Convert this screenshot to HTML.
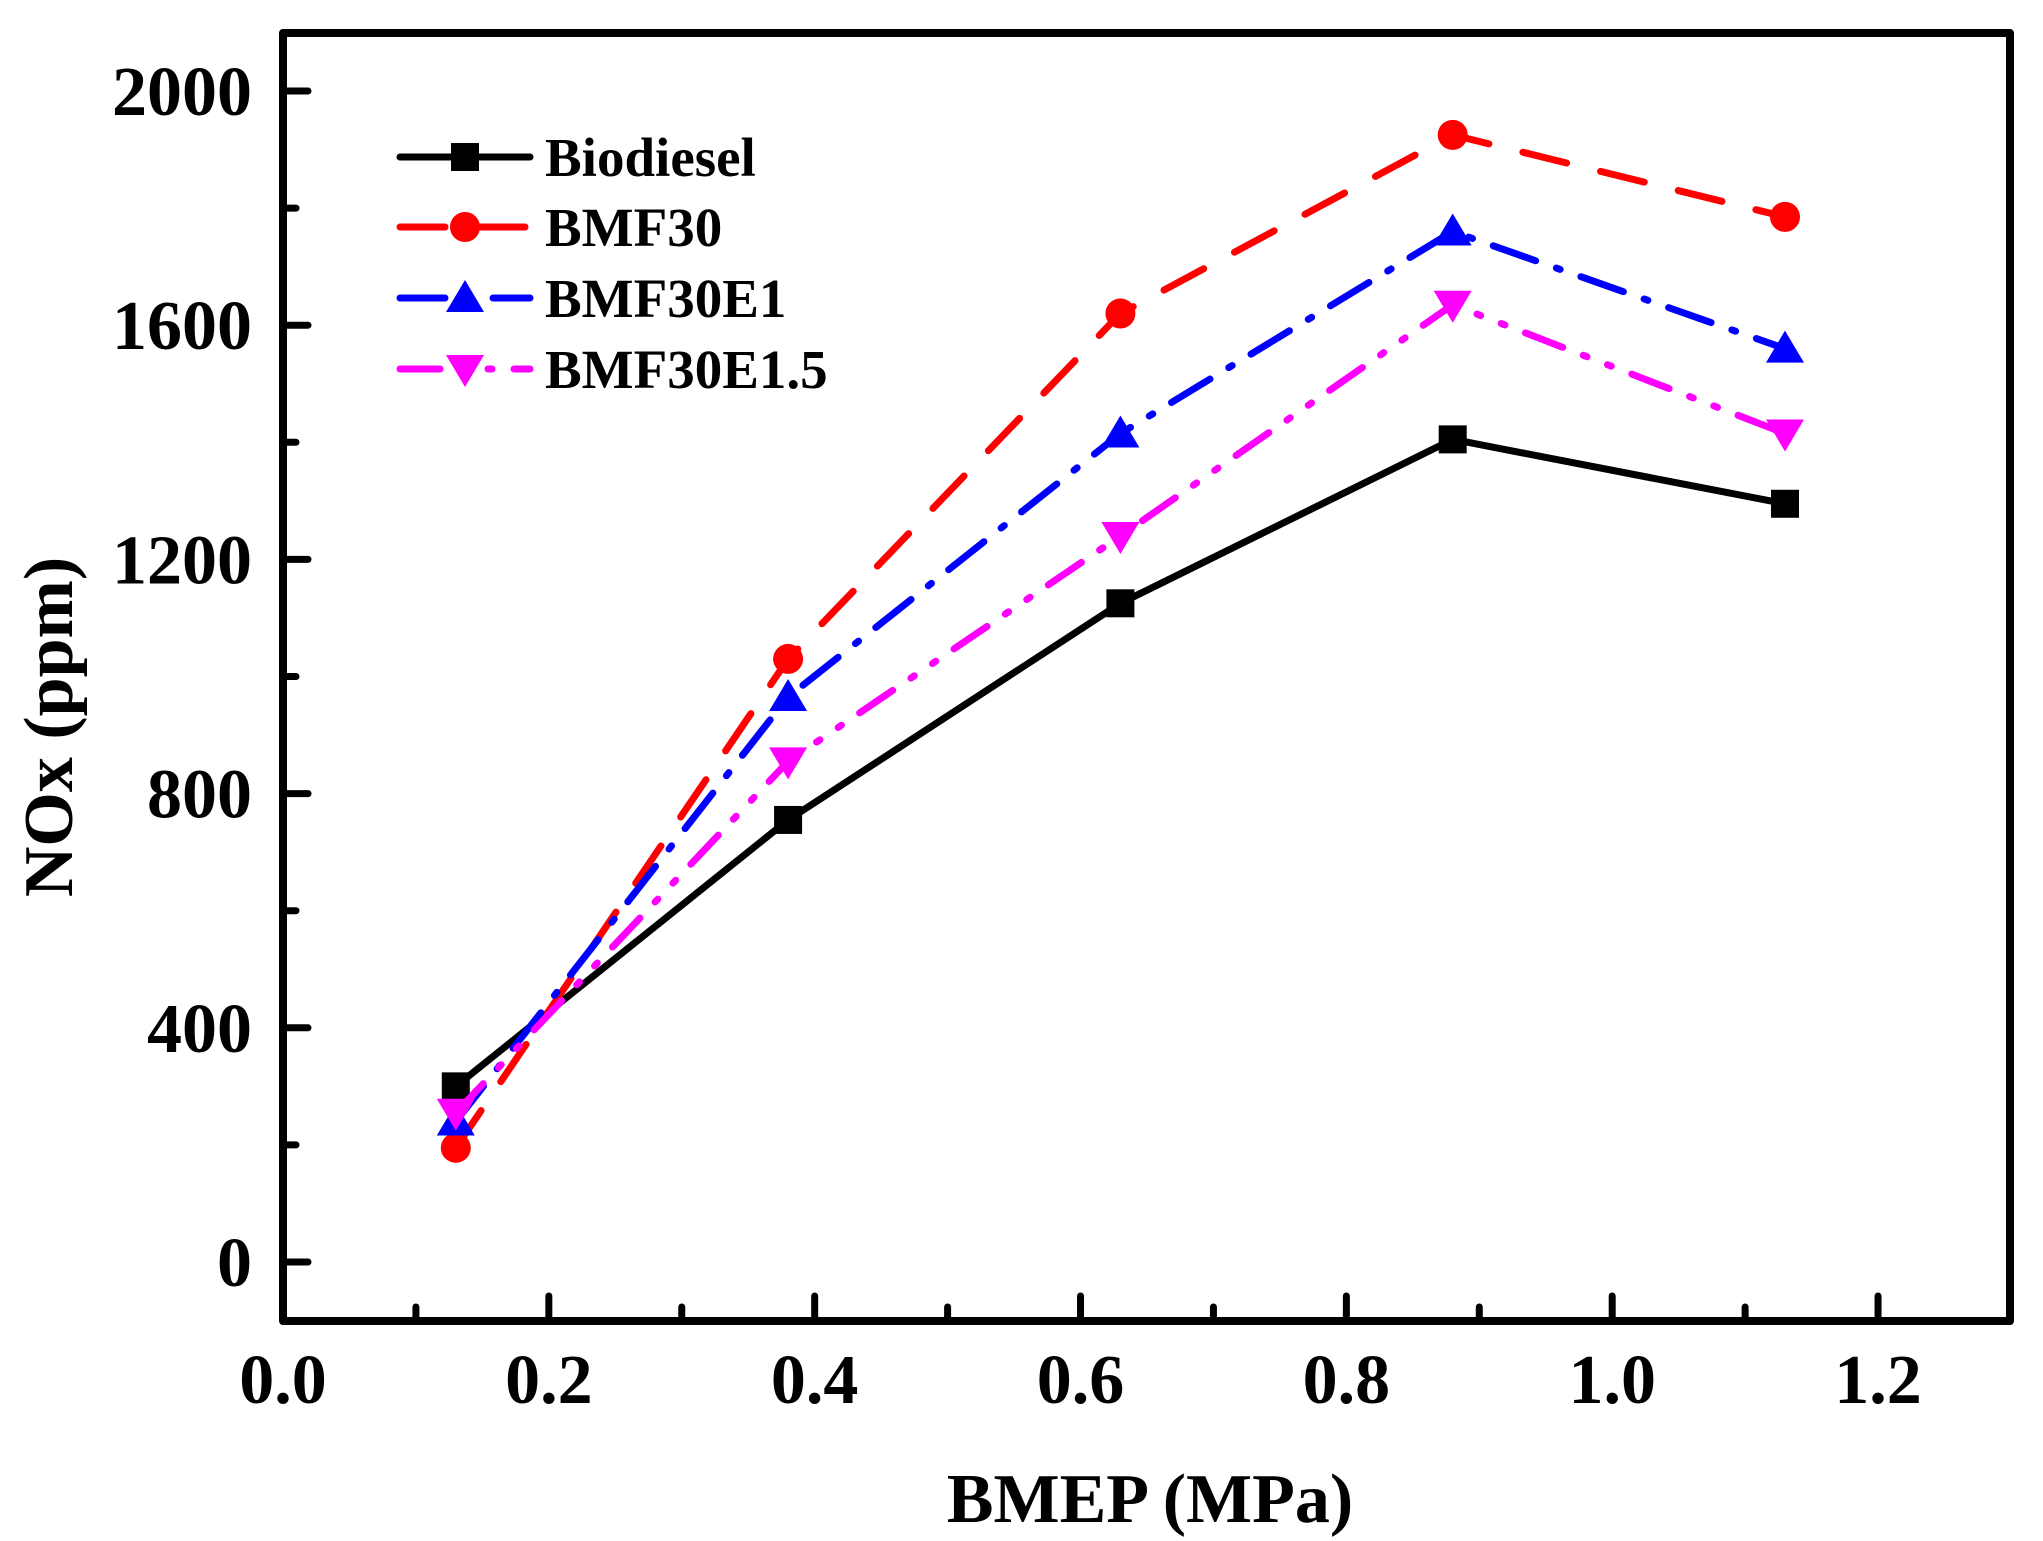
<!DOCTYPE html>
<html><head><meta charset="utf-8">
<style>
html,body{margin:0;padding:0;background:#fff;}
svg{display:block;}
text{font-family:"Liberation Serif",serif;font-weight:bold;fill:#000;}
</style></head>
<body>
<svg id="chart" width="2043" height="1541" viewBox="0 0 2043 1541" xmlns="http://www.w3.org/2000/svg">
<g id="grid-ticks"></g>
<g id="series"></g>
<rect x="283" y="33" width="1727" height="1288" fill="none" stroke="#000" stroke-width="8" stroke-linejoin="round"/>
<g id="labels"></g>
<text transform="translate(72,727) rotate(-90)" text-anchor="middle" font-size="70">NOx (ppm)</text>
<text x="1150" y="1522" text-anchor="middle" font-size="70">BMEP (MPa)</text>
<g id="legend"></g>
</svg>
<script>
const xValues = [0.13, 0.38, 0.63, 0.88, 1.13];
const seriesNames = ["Biodiesel", "BMF30", "BMF30E1", "BMF30E1.5"];
const biodiesel = [300, 755, 1125, 1405, 1295];
const bmf30 = [195, 1030, 1620, 1925, 1785];
const bmf30e1 = [240, 965, 1415, 1760, 1560];
const bmf30e15 = [255, 855, 1240, 1635, 1415];
const xTickLabels = ["0.0","0.2","0.4","0.6","0.8","1.0","1.2"];
const yTickLabels = ["0","400","800","1200","1600","2000"];

const NS = "http://www.w3.org/2000/svg";
function X(v){ return 283 + v * 1329.2; }
function Y(v){ return 1262 - v * 0.5855; }
function mk(tag, attrs, parent){ const e=document.createElementNS(NS,tag); for(const k in attrs) e.setAttribute(k,attrs[k]); parent.appendChild(e); return e; }

const ticks=document.getElementById('grid-ticks');
const labels=document.getElementById('labels');
// x ticks
for(let i=0;i<=12;i++){
  const v=i*0.1, major=i%2===0, len=major?25:14;
  const t=mk('line',{x1:X(v),x2:X(v),y1:1321,y2:1321-len,stroke:'#000','stroke-width':7,'stroke-linecap':'round'},ticks);
  
  
}
xTickLabels.forEach(function(s){
  const t=mk('text',{x:X(parseFloat(s)),y:1403,'text-anchor':'middle','font-size':70},labels);
  t.textContent=s;
  
  
});
for(let v=0;v<=2000;v+=200){
  const major=v%400===0, len=major?25:13;
  const t=mk('line',{x1:283,x2:283+len,y1:Y(v),y2:Y(v),stroke:'#000','stroke-width':7,'stroke-linecap':'round'},ticks);
  
  
}
yTickLabels.forEach(function(s){
  const t=mk('text',{x:252,y:Y(parseFloat(s))+24,'text-anchor':'end','font-size':70},labels);
  t.textContent=s;
  
  
});

const styles=[
  {data:biodiesel,color:'#000',dash:'',marker:'square'},
  {data:bmf30,color:'#ff0000',dash:'45 35',marker:'circle'},
  {data:bmf30e1,color:'#0000ff',dash:'45 22 4 22',marker:'up'},
  {data:bmf30e15,color:'#ff00ff',dash:'40 22 4 22 4 22',marker:'down'}
];
const seriesG=document.getElementById('series');
function drawMarker(type,cx,cy,color,parent){
  let m;
  if(type==='square') m=mk('rect',{x:cx-14,y:cy-14,width:28,height:28,fill:color},parent);
  else if(type==='circle') m=mk('circle',{cx:cx,cy:cy,r:15,fill:color},parent);
  else if(type==='up') m=mk('polygon',{points:(cx)+','+(cy-18)+' '+(cx+19)+','+(cy+14)+' '+(cx-19)+','+(cy+14),fill:color},parent);
  else m=mk('polygon',{points:(cx)+','+(cy+18)+' '+(cx+19)+','+(cy-14)+' '+(cx-19)+','+(cy-14),fill:color},parent);
  return m;
}
styles.forEach(function(s,si){
  const g=mk('g',{},seriesG);
  
  
  const pts=s.data.map(function(v,i){return X(xValues[i])+','+Y(v);}).join(' ');
  const l=mk('polyline',{points:pts,fill:'none',stroke:s.color,'stroke-width':7,'stroke-linecap':'round','stroke-linejoin':'round'},g);
  if(s.dash) l.setAttribute('stroke-dasharray',s.dash);
  
  
  s.data.forEach(function(v,i){
    const m=drawMarker(s.marker,X(xValues[i]),Y(v),s.color,g);
    
    
  });
});

const legend=document.getElementById('legend');
const legY=[157,227,298,369];
styles.forEach(function(s,i){
  const g=mk('g',{},legend);
  
  
  const l=mk('line',{x1:400,x2:530,y1:legY[i],y2:legY[i],stroke:s.color,'stroke-width':7,'stroke-linecap':'round'},g);
  if(s.dash) l.setAttribute('stroke-dasharray',s.dash);
  drawMarker(s.marker,465,legY[i],s.color,g);
  const t=mk('text',{x:545,y:legY[i]+19,'font-size':55},g);
  t.textContent=seriesNames[i];
  
  
});
</script>
</body></html>
